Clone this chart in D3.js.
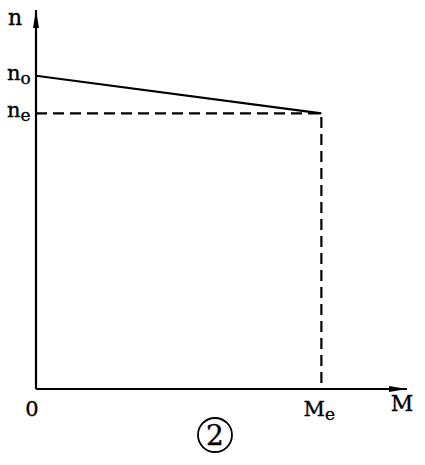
<!DOCTYPE html>
<html>
<head>
<meta charset="utf-8">
<script src="https://cdn.jsdelivr.net/npm/d3@7"></script>
<style>
  body { margin: 0; background: #fff; }
</style>
</head>
<body>
<svg id="canvas"></svg>
<script>
// torque / speed characteristic (relative units)
let torque = [0, 1.0]
let speed = [1.0, 0.88]

let yTickValues = [1.0, 0.88]
let yTickNames = [["n", "o"], ["n", "e"]]
let xTickValues = [0, 1.0]
let xTickNames = [["0", ""], ["M", "e"]]

let yTitle = "n"
let xTitle = "M"
let figLabel = "2"

let width = 425
let height = 465
let serif = "'DejaVu Serif', serif"

let canvas = d3.select("#canvas")
    .attr("width", width)
    .attr("height", height)

let xScale = d3.scaleLinear().domain([0, 1.3]).range([36, 407])
let yScale = d3.scaleLinear().domain([0, 1.21]).range([389, 10])

let x0 = xScale(0)
let y0 = yScale(0)

// arrow heads
let defs = canvas.append("defs")
defs.append("marker")
    .attr("id", "arrow")
    .attr("viewBox", "0 0 18 6")
    .attr("refX", 18).attr("refY", 3)
    .attr("markerWidth", 18).attr("markerHeight", 6)
    .attr("markerUnits", "userSpaceOnUse")
    .attr("orient", "auto")
    .append("path")
    .attr("d", "M0,0 L18,3 L0,6 Z")
    .attr("fill", "#000")

// axes
canvas.append("line")
    .attr("x1", x0).attr("y1", y0)
    .attr("x2", x0).attr("y2", yScale.range()[1])
    .attr("stroke", "#000").attr("stroke-width", 2.2)
    .attr("marker-end", "url(#arrow)")

canvas.append("line")
    .attr("x1", x0).attr("y1", y0)
    .attr("x2", xScale.range()[1]).attr("y2", y0)
    .attr("stroke", "#000").attr("stroke-width", 2.2)
    .attr("marker-end", "url(#arrow)")

// characteristic line
let line = d3.line()
    .x(d => xScale(d[0]))
    .y(d => yScale(d[1]))

canvas.append("path")
    .attr("d", line(d3.zip(torque, speed)))
    .attr("fill", "none")
    .attr("stroke", "#000")
    .attr("stroke-width", 2.2)

// dashed guide to the working point
let me = torque[1], ne = speed[1]
canvas.append("path")
    .attr("d", line([[0, ne], [me, ne], [me, 0]]))
    .attr("fill", "none")
    .attr("stroke", "#000")
    .attr("stroke-width", 2.2)
    .attr("stroke-dasharray", "11,6")

let label = (x, y, size) => canvas.append("text")
    .attr("x", x).attr("y", y)
    .attr("font-family", serif)
    .attr("font-size", size)
    .attr("stroke", "#000")
    .attr("stroke-width", 0.35)

// y tick labels
yTickValues.forEach((v, i) => {
    let t = label(7, yScale(v) + 4, 21)
    t.append("tspan").text(yTickNames[i][0])
    t.append("tspan").attr("dy", 4).attr("font-size", 17).text(yTickNames[i][1])
})

// x tick labels
xTickValues.forEach((v, i) => {
    let t = label(xScale(v) - (i ? 2 : 4), 416, 21)
        .attr("text-anchor", "middle")
    t.append("tspan").text(xTickNames[i][0])
    if (xTickNames[i][1]) {
        t.append("tspan").attr("dy", 4).attr("font-size", 17).text(xTickNames[i][1])
    }
})

// axis titles
label(8, 25, 22).text(yTitle)
label(402, 411, 22).attr("text-anchor", "middle").text(xTitle)

// figure number in circle
canvas.append("circle")
    .attr("cx", 215).attr("cy", 435)
    .attr("r", 17)
    .attr("fill", "none")
    .attr("stroke", "#000")
    .attr("stroke-width", 1.8)

label(215, 445, 28).attr("text-anchor", "middle").text(figLabel)
</script>
</body>
</html>
